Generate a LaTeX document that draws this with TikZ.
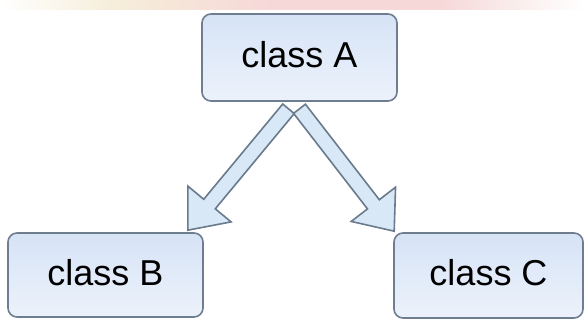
\documentclass[tikz,border=0pt]{standalone}
\usepackage{fontspec}
\setmainfont{Liberation Sans}
\usetikzlibrary{calc}
\definecolor{boxline}{HTML}{6E7D8F}
\definecolor{boxtop}{HTML}{D6E3F6}
\definecolor{boxbot}{HTML}{ECF2FB}
\definecolor{arrline}{HTML}{687A8C}
\definecolor{arrfill}{HTML}{D9E8F6}
\definecolor{bandbeige}{HTML}{F6EEDA}
\definecolor{bandpink}{HTML}{F6D8D8}
\newcommand{\blockarr}[3]{% #1 tail, #2 tip, #3 prefix
  \coordinate (#3base) at ($(#2)!34pt!(#1)$);
  \draw[arrowbody] ($(#1)!7.5pt!90:(#2)$)
    -- ($(#3base)!7.5pt!90:(#2)$)
    -- ($(#3base)!28pt!90:(#2)$)
    -- (#2)
    -- ($(#3base)!28pt!-90:(#2)$)
    -- ($(#3base)!7.5pt!-90:(#2)$)
    -- ($(#1)!7.5pt!-90:(#2)$) -- cycle;
}
\tikzset{
  boxnode/.style={draw=boxline, line width=1.6pt, rounded corners=9pt,
    top color=boxtop, bottom color=boxbot, inner sep=0pt,
    font=\fontsize{36}{40}\selectfont, text height=24pt, text depth=3pt},
  arrowbody/.style={draw=arrline, line width=1.6pt, fill=arrfill, line join=miter},
}
\begin{document}
\begin{tikzpicture}[x=1pt,y=-1pt]
\useasboundingbox (0,0) rectangle (584,320);
\fill[white] (0,0) rectangle (584,320);
% faint band at the top
\shade[left color=white, right color=bandbeige] (0,0) rectangle (110,10);
\shade[left color=bandbeige, right color=bandpink] (110,0) rectangle (270,10);
\fill[bandpink] (270,0) rectangle (440,10);
\shade[left color=bandpink, right color=white] (440,0) rectangle (584,10);
% boxes
\node[boxnode, minimum width=195pt, minimum height=87pt] (A) at (299.5,57.5) {class A};
\node[boxnode, minimum width=195pt, minimum height=84pt] (B) at (105.5,275) {class B};
\node[boxnode, minimum width=189pt, minimum height=85pt] (C) at (488.5,275.5) {class C};
% arrows
\coordinate (tL) at ($(A.south)+(-11,7)$);
\coordinate (tR) at ($(A.south)+(0,7)$);
\coordinate (hL) at ($(B.north east)+(-16,-2)$);
\coordinate (hR) at ($(C.north west)+(1,-1)$);
\blockarr{tL}{hL}{l}
\blockarr{tR}{hR}{r}
\end{tikzpicture}
\end{document}
